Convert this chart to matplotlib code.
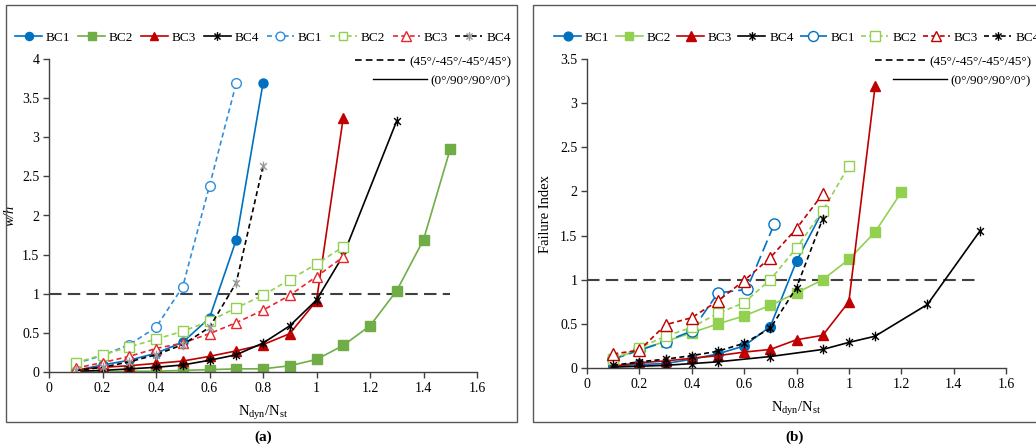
import matplotlib
matplotlib.use("Agg")
import matplotlib.pyplot as plt
from matplotlib.lines import Line2D
from matplotlib.patches import Rectangle
from matplotlib.path import Path

plt.rcParams['font.family'] = ['Liberation Serif', 'DejaVu Serif']
plt.rcParams['font.size'] = 10

# ---------------- Panel (a): w/h ----------------
a_x_bc1_s = [0.1, 0.2, 0.3, 0.4, 0.5, 0.6, 0.7, 0.8]
a_y_bc1_s = [0.02, 0.09, 0.15, 0.24, 0.38, 0.69, 1.69, 3.69]
a_x_bc2_s = [0.1, 0.2, 0.3, 0.4, 0.5, 0.6, 0.7, 0.8, 0.9, 1.0, 1.1, 1.2, 1.3, 1.4, 1.5]
a_y_bc2_s = [0.0, 0.0, 0.01, 0.01, 0.02, 0.03, 0.04, 0.04, 0.08, 0.16, 0.34, 0.59, 1.04, 1.69, 2.85]
a_x_bc3_s = [0.1, 0.2, 0.3, 0.4, 0.5, 0.6, 0.7, 0.8, 0.9, 1.0, 1.1]
a_y_bc3_s = [0.03, 0.06, 0.08, 0.11, 0.14, 0.20, 0.27, 0.35, 0.49, 0.91, 3.25]
a_x_bc4_s = [0.1, 0.2, 0.3, 0.4, 0.5, 0.6, 0.7, 0.8, 0.9, 1.0, 1.1, 1.3]
a_y_bc4_s = [0.01, 0.02, 0.04, 0.06, 0.09, 0.15, 0.22, 0.37, 0.59, 0.92, 1.49, 3.21]
a_x_bc1_d = [0.1, 0.2, 0.3, 0.4, 0.5, 0.6, 0.7]
a_y_bc1_d = [0.11, 0.21, 0.35, 0.57, 1.09, 2.38, 3.69]
a_x_bc2_d = [0.1, 0.2, 0.3, 0.4, 0.5, 0.6, 0.7, 0.8, 0.9, 1.0, 1.1]
a_y_bc2_d = [0.12, 0.22, 0.32, 0.42, 0.52, 0.65, 0.82, 0.98, 1.18, 1.38, 1.60]
a_x_bc3_d = [0.1, 0.2, 0.3, 0.4, 0.5, 0.6, 0.7, 0.8, 0.9, 1.0, 1.1]
a_y_bc3_d = [0.05, 0.12, 0.20, 0.30, 0.37, 0.49, 0.63, 0.79, 0.98, 1.22, 1.47]
a_x_bc4_d = [0.1, 0.2, 0.3, 0.4, 0.5, 0.6, 0.7, 0.8]
a_y_bc4_d = [0.02, 0.06, 0.13, 0.22, 0.35, 0.57, 1.14, 2.63]

# ---------------- Panel (b): Failure Index ----------------
b_x_bc1_s = [0.1, 0.2, 0.3, 0.4, 0.5, 0.6, 0.7, 0.8, 0.9]
b_y_bc1_s = [0.02, 0.04, 0.05, 0.10, 0.16, 0.25, 0.47, 1.21, 1.78]
b_x_bc2_s = [0.1, 0.2, 0.3, 0.4, 0.5, 0.6, 0.7, 0.8, 0.9, 1.0, 1.1, 1.2]
b_y_bc2_s = [0.10, 0.21, 0.30, 0.40, 0.50, 0.59, 0.71, 0.85, 1.00, 1.23, 1.54, 1.99]
b_x_bc3_s = [0.1, 0.2, 0.3, 0.4, 0.5, 0.6, 0.7, 0.8, 0.9, 1.0, 1.1]
b_y_bc3_s = [0.02, 0.06, 0.08, 0.11, 0.14, 0.18, 0.21, 0.32, 0.37, 0.75, 3.19]
b_x_bc4_s = [0.1, 0.2, 0.3, 0.4, 0.5, 0.7, 0.9, 1.0, 1.1, 1.3, 1.5]
b_y_bc4_s = [0.01, 0.02, 0.03, 0.05, 0.07, 0.13, 0.21, 0.29, 0.36, 0.72, 1.55]
b_x_bc1_d = [0.1, 0.2, 0.3, 0.4, 0.5, 0.61, 0.715]
b_y_bc1_d = [0.10, 0.20, 0.30, 0.42, 0.85, 0.89, 1.63]
b_x_bc2_d = [0.1, 0.2, 0.3, 0.4, 0.5, 0.6, 0.7, 0.8, 0.9, 1.0]
b_y_bc2_d = [0.10, 0.23, 0.36, 0.46, 0.62, 0.74, 1.00, 1.36, 1.78, 2.29]
b_x_bc3_d = [0.1, 0.2, 0.3, 0.4, 0.5, 0.6, 0.7, 0.8, 0.9]
b_y_bc3_d = [0.16, 0.20, 0.49, 0.57, 0.76, 0.99, 1.25, 1.58, 1.97]
b_x_bc4_d = [0.1, 0.2, 0.3, 0.4, 0.5, 0.6, 0.7, 0.8, 0.9]
b_y_bc4_d = [0.03, 0.07, 0.10, 0.14, 0.19, 0.28, 0.45, 0.91, 1.69]

labels = ['BC1', 'BC2', 'BC3', 'BC4']
layup_labels = ['(45°/-45°/-45°/45°)', '(0°/90°/90°/0°)']
x_ticks = [0, 0.2, 0.4, 0.6, 0.8, 1, 1.2, 1.4, 1.6]
x_ticklabels = ['0', '0.2', '0.4', '0.6', '0.8', '1', '1.2', '1.4', '1.6']
a_y_ticks = [0, 0.5, 1, 1.5, 2, 2.5, 3, 3.5, 4]
a_y_ticklabels = ['0', '0.5', '1', '1.5', '2', '2.5', '3', '3.5', '4']
b_y_ticks = [0, 0.5, 1, 1.5, 2, 2.5, 3, 3.5]
b_y_ticklabels = ['0', '0.5', '1', '1.5', '2', '2.5', '3', '3.5']

# Excel-like star marker (X plus vertical bar)
star = Path([(-0.7, -0.7), (0.7, 0.7), (-0.7, 0.7), (0.7, -0.7), (0, -1), (0, 1)],
            [Path.MOVETO, Path.LINETO, Path.MOVETO, Path.LINETO, Path.MOVETO, Path.LINETO])

BLUE = '#0070C0'
BLUE_L = '#2F8FDD'
GREEN = '#70AD47'
GREEN_L = '#92D050'
RED = '#C00000'
RED_L = '#E8262B'
BLACK = '#000000'
GRAY = '#9A9A9A'
AXC = '#404040'

fig = plt.figure(figsize=(10.36, 4.48), dpi=100)

# Panel boxes
fig.add_artist(Rectangle((6 / 1036, 1 - 422 / 448), (517 - 6) / 1036, (422 - 5) / 448,
                         transform=fig.transFigure, fill=False, edgecolor='#595959', lw=1.0))
fig.add_artist(Rectangle((533 / 1036, 1 - 422 / 448), 0.6, (422 - 5) / 448,
                         transform=fig.transFigure, fill=False, edgecolor='#595959', lw=1.0))

axA = fig.add_axes([49 / 1036, 1 - 372 / 448, 428 / 1036, 313 / 448])
axB = fig.add_axes([587 / 1036, 1 - 368 / 448, 419 / 1036, 309 / 448])

SD = (3, 2)
LD = (7, 3)


def style_axes(ax, yticks, yticklabels, ylim, ylabel, ylabel_style, lpad):
    ax.set_xlim(0, 1.6)
    ax.set_ylim(*ylim)
    ax.set_xticks(x_ticks)
    ax.set_xticklabels(x_ticklabels)
    ax.set_yticks(yticks)
    ax.set_yticklabels(yticklabels)
    for s in ['top', 'right']:
        ax.spines[s].set_visible(False)
    for s in ['left', 'bottom']:
        ax.spines[s].set_color(AXC)
        ax.spines[s].set_linewidth(1.0)
    ax.tick_params(direction='out', length=4, width=1, color=AXC, labelsize=10, pad=3)
    ax.set_xlabel('N$_{\\mathregular{dyn}}$/N$_{\\mathregular{st}}$', fontsize=10.5, labelpad=6)
    ax.set_ylabel(ylabel, fontsize=10.5, style=ylabel_style, labelpad=lpad)
    ax.patch.set_alpha(0)


def plot_panel(ax, data, specs):
    handles = []
    for (xs, ys), sp in zip(data, specs):
        h, = ax.plot(xs, ys, **sp)
        handles.append(h)
    return handles


specs_a = [
    dict(color=BLUE, lw=1.2, marker='o', ms=6.5, mfc=BLUE, mec=BLUE),
    dict(color=GREEN, lw=1.2, marker='s', ms=6.5, mfc=GREEN, mec=GREEN),
    dict(color=RED, lw=1.2, marker='^', ms=7, mfc=RED, mec=RED),
    dict(color=BLACK, lw=1.2, marker=star, ms=7, mfc='none', mec=BLACK, mew=1.0),
    dict(color=BLUE_L, lw=1.2, ls=(0, SD), marker='o', ms=7, mfc='white', mec=BLUE_L, mew=1.0),
    dict(color=GREEN_L, lw=1.2, ls=(0, SD), marker='s', ms=7, mfc='white', mec=GREEN_L, mew=1.0),
    dict(color=RED_L, lw=1.2, ls=(0, SD), marker='^', ms=7.5, mfc='white', mec=RED_L, mew=1.0),
    dict(color=BLACK, lw=1.2, ls=(0, SD), marker=star, ms=7, mfc='none', mec=GRAY, mew=1.0),
]
specs_b = [
    dict(color=BLUE, lw=1.2, marker='o', ms=7, mfc=BLUE, mec=BLUE),
    dict(color=GREEN_L, lw=1.2, marker='s', ms=7, mfc=GREEN_L, mec=GREEN_L),
    dict(color=RED, lw=1.2, marker='^', ms=7.5, mfc=RED, mec=RED),
    dict(color=BLACK, lw=1.2, marker=star, ms=7, mfc='none', mec=BLACK, mew=1.0),
    dict(color=BLUE, lw=1.2, ls=(0, LD), marker='o', ms=8, mfc='white', mec=BLUE, mew=1.0),
    dict(color=GREEN_L, lw=1.2, ls=(0, SD), marker='s', ms=7.5, mfc='white', mec=GREEN_L, mew=1.0),
    dict(color=RED, lw=1.2, ls=(0, SD), marker='^', ms=8, mfc='white', mec=RED, mew=1.0),
    dict(color=BLACK, lw=1.2, ls=(0, SD), marker=star, ms=7, mfc='none', mec=BLACK, mew=1.0),
]

data_a = [(a_x_bc1_s, a_y_bc1_s), (a_x_bc2_s, a_y_bc2_s), (a_x_bc3_s, a_y_bc3_s), (a_x_bc4_s, a_y_bc4_s),
          (a_x_bc1_d, a_y_bc1_d), (a_x_bc2_d, a_y_bc2_d), (a_x_bc3_d, a_y_bc3_d), (a_x_bc4_d, a_y_bc4_d)]
data_b = [(b_x_bc1_s, b_y_bc1_s), (b_x_bc2_s, b_y_bc2_s), (b_x_bc3_s, b_y_bc3_s), (b_x_bc4_s, b_y_bc4_s),
          (b_x_bc1_d, b_y_bc1_d), (b_x_bc2_d, b_y_bc2_d), (b_x_bc3_d, b_y_bc3_d), (b_x_bc4_d, b_y_bc4_d)]

for ax in (axA, axB):
    ax.plot([0, 1.5], [1, 1], color=AXC, lw=1.5, ls=(0, (6, 3)), zorder=1)

hA = plot_panel(axA, data_a, specs_a)
hB = plot_panel(axB, data_b, specs_b)

style_axes(axA, a_y_ticks, a_y_ticklabels, (0, 4), 'w/h', 'italic', 4)
style_axes(axB, b_y_ticks, b_y_ticklabels, (0, 3.5), 'Failure Index', 'normal', 6)

all_labels = labels + labels
LEGFS = 9.5
legkw = dict(ncol=8, frameon=False, fontsize=LEGFS, handlelength=2.05, handletextpad=0.3,
             borderaxespad=0, borderpad=0, loc='center left', markerscale=0.9)
fig.legend(hA, all_labels, bbox_to_anchor=(15 / 1036, 1 - 38 / 448), columnspacing=0.57, **legkw)
fig.legend(hB, all_labels, bbox_to_anchor=(554 / 1036, 1 - 38 / 448), columnspacing=0.46, **legkw)

lay_dash = Line2D([], [], color=BLACK, lw=1.2, ls=(0, (4, 2.5)))
lay_solid = Line2D([], [], color=BLACK, lw=1.0)
laykw = dict(frameon=False, fontsize=LEGFS, handletextpad=0.3, borderaxespad=0, borderpad=0,
             loc='center right')
fig.legend([lay_dash], [layup_labels[0]], bbox_to_anchor=(511 / 1036, 1 - 62 / 448), handlelength=3.8, **laykw)
fig.legend([lay_solid], [layup_labels[1]], bbox_to_anchor=(511 / 1036, 1 - 81 / 448), handlelength=4.1, **laykw)
fig.legend([lay_dash], [layup_labels[0]], bbox_to_anchor=(1031 / 1036, 1 - 62 / 448), handlelength=3.8, **laykw)
fig.legend([lay_solid], [layup_labels[1]], bbox_to_anchor=(1031 / 1036, 1 - 81 / 448), handlelength=4.1, **laykw)

fig.text(263 / 1036, 1 - 437 / 448, '(a)', ha='center', va='center', fontsize=11, fontweight='bold')
fig.text(795 / 1036, 1 - 437 / 448, '(b)', ha='center', va='center', fontsize=11, fontweight='bold')

fig.savefig('out.png', dpi=100)
